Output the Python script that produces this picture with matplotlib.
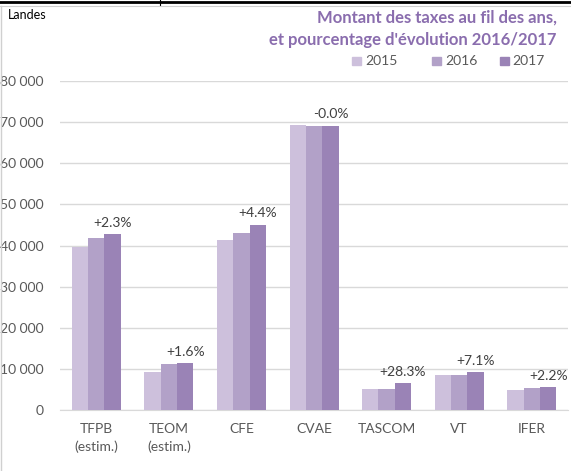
import matplotlib
matplotlib.use("Agg")
import matplotlib.pyplot as plt
import numpy as np
from matplotlib.lines import Line2D
from matplotlib.patches import Rectangle

plt.rcParams['font.family'] = ['Lato', 'DejaVu Sans']

# --- data ---------------------------------------------------------------
categories = ["TFPB\n(estim.)", "TEOM\n(estim.)", "CFE", "CVAE", "TASCOM", "VT", "IFER"]
years = ["2015", "2016", "2017"]
v2015 = [39600, 9200, 41400, 69400, 5100, 8600, 4900]
v2016 = [41800, 11200, 43100, 69100, 5100, 8550, 5350]
v2017 = [42750, 11350, 45000, 69050, 6550, 9200, 5500]
evolution = ["+2.3%", "+1.6%", "+4.4%", "-0.0%", "+28.3%", "+7.1%", "+2.2%"]
yticks = [0, 10000, 20000, 30000, 40000, 50000, 60000, 70000, 80000]
ytick_labels = ["0", "10 000", "20 000", "30 000", "40 000", "50 000",
                "60 000", "70 000", "80 000"]

colors = ["#cdc0dc", "#b2a1c8", "#9a83b6"]
grey_txt = "#595959"

fig = plt.figure(figsize=(5.71, 4.71), dpi=100)
ax = fig.add_axes([0.105, 0.1295, 0.89, 0.6985])

x = np.arange(len(categories))
w = 0.225
series = [v2015, v2016, v2017]
for i, vals in enumerate(series):
    ax.bar(x + (i - 1) * w, vals, width=w, color=colors[i], zorder=3)

for xi, top, lab in zip(x, v2017, evolution):
    ax.annotate(lab, (xi + w, top), xytext=(0, 4), textcoords="offset points",
                ha="center", va="bottom", fontsize=10, color="#404040")

ax.set_xlim(-0.5, len(categories) - 0.5)
ax.set_ylim(0, 80000)
ax.set_yticks(yticks)
ax.set_yticklabels(ytick_labels)
ax.set_xticks(x)
ax.set_xticklabels([])
ax.tick_params(axis="both", length=0, colors=grey_txt, labelsize=10)
ax.tick_params(axis="y", pad=12)
# category labels, one text per line so the spacing can match the original
for xi, cat in zip(x, categories):
    for k, line in enumerate(cat.split("\n")):
        ax.annotate(line, (xi, 0), xycoords=("data", "axes fraction"),
                    xytext=(0, -14 - 12.7 * k), textcoords="offset points",
                    ha="center", va="center", fontsize=10, color=grey_txt)
ax.grid(axis="y", color="#d9d9d9", linewidth=1, zorder=0)
for s in ["top", "right", "left"]:
    ax.spines[s].set_visible(False)
ax.spines["bottom"].set_color("#d9d9d9")

# title, legend, corner label
fig.text(0.975, 0.962, "Montant des taxes au fil des ans,", ha="right", va="center",
         fontsize=12, fontweight="bold", color="#8a6dae")
fig.text(0.975, 0.915, "et pourcentage d'évolution 2016/2017", ha="right", va="center",
         fontsize=12, fontweight="bold", color="#8a6dae")
fig.text(0.014, 0.968, "Landes", ha="left", va="center", fontsize=9, color="#000000")

leg_x = [0.617, 0.757, 0.876]
for lx, yr, c in zip(leg_x, years, colors):
    fig.patches.append(Rectangle((lx, 0.861), 0.0158, 0.019, transform=fig.transFigure,
                                 color=c))
    fig.text(lx + 0.022, 0.870, yr, ha="left", va="center", fontsize=10, color=grey_txt)

# table-cell borders from the source page
fig.add_artist(Line2D([0, 1], [0.996, 0.996], color="#000000", linewidth=2,
                      transform=fig.transFigure))
fig.add_artist(Line2D([0.28, 0.28], [0.99, 1.0], color="#000000", linewidth=0.8,
                      transform=fig.transFigure))
fig.add_artist(Line2D([0, 1], [0.988, 0.988], color="#d0d0d0", linewidth=0.8,
                      transform=fig.transFigure))
fig.add_artist(Line2D([0.002, 0.002], [0, 0.988], color="#d0d0d0", linewidth=1,
                      transform=fig.transFigure))

fig.savefig("out.png", dpi=100)
